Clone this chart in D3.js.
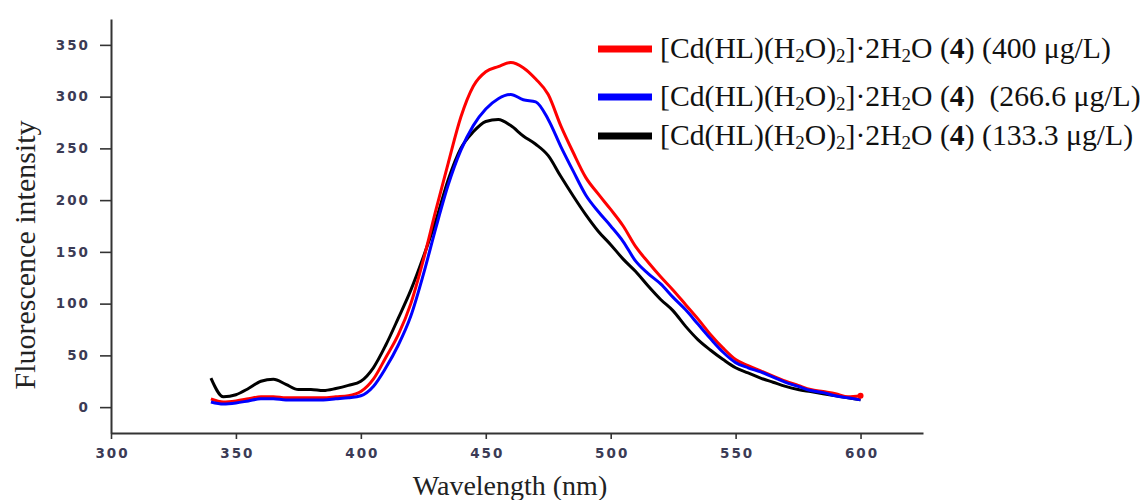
<!DOCTYPE html>
<html>
<head>
<meta charset="utf-8">
<script src="https://cdn.jsdelivr.net/npm/d3@7"></script>
<style>
  body { margin: 0; background: #fff; }
</style>
</head>
<body>
<svg width="1147" height="500"></svg>
<script>
// emission wavelengths (nm)
var wavelength = [340, 345, 350, 355, 360, 365, 370, 375, 380, 385, 390, 395, 400, 405, 410, 415, 420, 425, 430, 435,
                  440, 445, 450, 455, 460, 465, 470, 475, 480, 485, 490, 495, 500, 505, 510, 515, 520, 525, 530, 535,
                  540, 545, 550, 555, 560, 565, 570, 575, 580, 585, 590, 595, 600];

var red400 = [8, 5, 6, 8, 10, 10, 9, 9, 9, 9, 10, 11, 15, 27, 48, 70, 100, 142, 190, 236,
              280, 310, 324, 329, 333, 328, 317, 302, 272, 246, 222, 206, 191, 175, 155, 140, 126, 113, 99, 85,
              70, 57, 46, 40, 35, 30, 25, 21, 17, 15, 13, 10, 11];

var blue266 = [5, 3, 4, 6, 8, 8, 7, 7, 7, 7, 8, 9, 11, 20, 38, 60, 88, 128, 173, 215,
               248, 272, 288, 298, 302, 297, 295, 278, 252, 228, 205, 189, 175, 160, 141, 129, 119, 106, 94, 80,
               66, 53, 43, 38, 34, 29, 24, 20, 16, 14, 11, 9, 7];

var black133 = [28, 10, 12, 18, 25, 27, 22, 17, 17, 16, 18, 21, 25, 38, 60, 86, 113, 145, 180, 220,
                250, 266, 276, 278, 272, 262, 254, 243, 223, 204, 186, 170, 157, 143, 131, 117, 104, 93, 78, 65,
                55, 46, 38, 33, 28, 24, 20, 17, 15, 13, 11, 9, 7];

var xMajor = [300, 350, 400, 450, 500, 550, 600];
var xMinor = [325, 375, 425, 475, 525, 575, 625];
var yMajor = [0, 50, 100, 150, 200, 250, 300, 350];
var yMinor = [-25, 25, 75, 125, 175, 225, 275, 325, 375];

var legendTail = [') (400 μg/L)', ')  (266.6 μg/L)', ') (133.3 μg/L)'];

var svg = d3.select('svg');

var x = d3.scaleLinear().domain([300, 625]).range([111, 923]);
var y = d3.scaleLinear().domain([-25, 375]).range([433, 19]);

// axes
var gy = svg.append('g').attr('transform', 'translate(111,0)');
gy.call(d3.axisLeft(y).tickValues(yMinor).tickSize(6).tickSizeOuter(0).tickFormat(''));
gy.call(d3.axisLeft(y).tickValues(yMajor).tickSize(11).tickSizeOuter(0).tickPadding(10));

var gx = svg.append('g').attr('transform', 'translate(0,433)');
gx.call(d3.axisBottom(x).tickValues(xMinor).tickSize(3).tickSizeOuter(0).tickFormat(''));
gx.call(d3.axisBottom(x).tickValues(xMajor).tickSize(6).tickSizeOuter(0).tickPadding(9));
gx.selectAll('.tick text').attr('dx', 1);

svg.selectAll('.domain').attr('stroke', '#333').attr('stroke-width', 2);
svg.selectAll('.tick line').attr('stroke', '#333').attr('stroke-width', 1.6);
svg.selectAll('.tick text')
   .style('font-family', 'DejaVu Sans')
   .style('font-weight', 'bold')
   .style('font-size', '13.5px')
   .style('letter-spacing', '2px')
   .style('fill', '#3b3b55');

// axis titles
svg.append('text')
   .attr('transform', 'translate(35,255) rotate(-90)')
   .attr('text-anchor', 'middle')
   .style('font-family', 'Liberation Serif')
   .style('font-size', '30px')
   .style('fill', '#222')
   .text('Fluorescence intensity');

svg.append('text')
   .attr('x', 510).attr('y', 495)
   .attr('text-anchor', 'middle')
   .style('font-family', 'Liberation Serif')
   .style('font-size', '28px')
   .style('fill', '#222')
   .text('Wavelength (nm)');

// spectra
var line = d3.line()
   .x(function(d, i) { return x(wavelength[i]); })
   .y(function(d) { return y(d); })
   .curve(d3.curveMonotoneX);

var series = [
   { values: black133, color: '#000000' },
   { values: red400, color: '#ff0000' },
   { values: blue266, color: '#0000ff' }
];

svg.selectAll('path.spec')
   .data(series)
   .enter()
   .append('path')
   .attr('class', 'spec')
   .attr('d', function(d) { return line(d.values); })
   .attr('fill', 'none')
   .attr('stroke', function(d) { return d.color; })
   .attr('stroke-width', 3)
   .attr('stroke-linejoin', 'round');

// red end dot
svg.append('circle')
   .attr('cx', x(600)).attr('cy', y(red400[red400.length - 1]))
   .attr('r', 3).attr('fill', '#ff0000');

// legend
var legendColors = ['#ff0000', '#0000ff', '#000000'];
var legendY = [49, 97, 136];

legendColors.forEach(function(c, i) {
   svg.append('line')
      .attr('x1', 598).attr('x2', 652)
      .attr('y1', legendY[i]).attr('y2', legendY[i])
      .attr('stroke', c).attr('stroke-width', 7);

   var t = svg.append('text')
      .attr('x', 660).attr('y', legendY[i] + 9)
      .style('font-family', 'Liberation Serif')
      .style('font-size', '29.7px')
      .style('fill', '#111')
      .style('white-space', 'pre');

   t.append('tspan').text('[Cd(HL)(H');
   t.append('tspan').attr('dy', 4).style('font-size', '19px').text('2');
   t.append('tspan').attr('dy', -4).text('O)');
   t.append('tspan').attr('dy', 4).style('font-size', '19px').text('2');
   t.append('tspan').attr('dy', -4).text(']·2H');
   t.append('tspan').attr('dy', 4).style('font-size', '19px').text('2');
   t.append('tspan').attr('dy', -4).text('O (');
   t.append('tspan').style('font-weight', 'bold').text('4');
   t.append('tspan').text(legendTail[i]);
});
</script>
</body>
</html>
